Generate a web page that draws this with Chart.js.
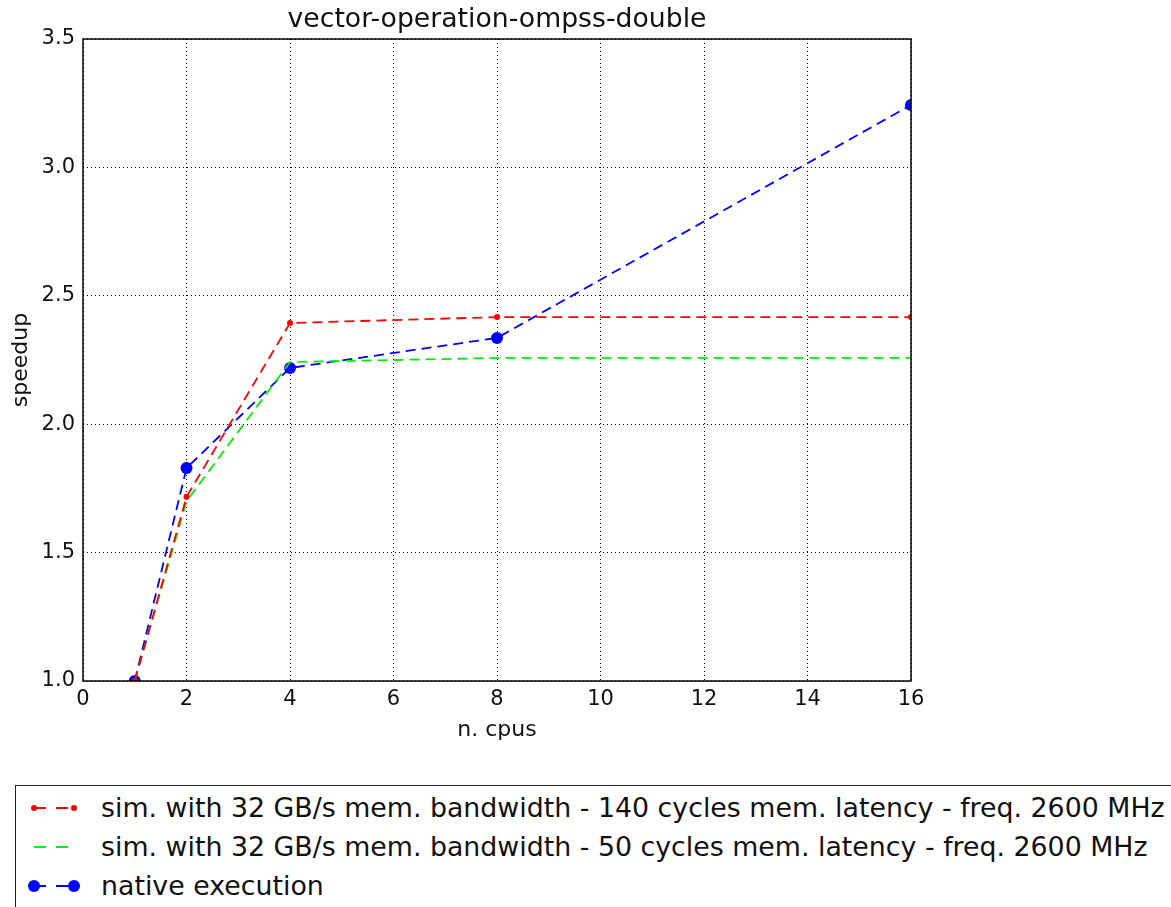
<!DOCTYPE html>
<html lang="en">
<head>
  <meta charset="UTF-8">
  <title>vector-operation-ompss-double</title>
  <script src="https://cdn.jsdelivr.net/npm/chart.js"></script>
  <style>
    body { margin: 0; background: #fff; font-family: "DejaVu Sans", sans-serif; overflow: hidden; }
    #wrap { position: relative; width: 1171px; height: 760px; }
    #legend {
      position: absolute; left: 15px; top: 785px; width: 1170px; height: 140px;
      border: 1.5px solid #222; box-sizing: border-box; padding-top: 2px;
    }
    .item { height: 39px; display: flex; align-items: center; font-size: 26.8px; color: #111; white-space: nowrap; }
    .item svg { margin-left: 6px; margin-right: 17px; }
  </style>
</head>
<body>
  <div id="wrap"><canvas id="myChart"></canvas></div>
  <div id="legend"></div>

<script>
  const cpus = [1, 2, 4, 8, 16];
  const sim140 = [1.0, 1.717, 2.394, 2.417, 2.417];
  const sim50 = [1.0, 1.70, 2.242, 2.258, 2.258];
  const native = [1.0, 1.829, 2.219, 2.336, 3.243];
  const xTicks = [0, 2, 4, 6, 8, 10, 12, 14, 16];
  const yTicks = [1.0, 1.5, 2.0, 2.5, 3.0, 3.5];
  const titleText = 'vector-operation-ompss-double';

  const labels = [
    'sim. with 32 GB/s mem. bandwidth - 140 cycles mem. latency - freq. 2600 MHz',
    'sim. with 32 GB/s mem. bandwidth - 50 cycles mem. latency - freq. 2600 MHz',
    'native execution'
  ];

  const toPoints = ys => cpus.map((c, i) => ({ x: c, y: ys[i] }));

  // full box around the plot area + title centred over it, like matplotlib
  const frame = {
    id: 'frame',
    afterDraw(chart) {
      const a = chart.chartArea, ctx = chart.ctx;
      ctx.save();
      ctx.strokeStyle = '#000';
      ctx.lineWidth = 1.5;
      ctx.strokeRect(a.left, a.top, a.right - a.left, a.bottom - a.top);
      ctx.fillStyle = '#111';
      ctx.font = '26.7px "DejaVu Sans"';
      ctx.textAlign = 'center';
      ctx.textBaseline = 'middle';
      ctx.fillText(titleText, (a.left + a.right) / 2, 20);
      ctx.restore();
    }
  };

  const font = { family: 'DejaVu Sans', size: 21 };
  const labelFont = { family: 'DejaVu Sans', size: 22 };

  const datasets = [
    { label: labels[0], data: toPoints(sim140), borderColor: '#ff0000', backgroundColor: '#ff0000',
      borderDash: [10, 6], borderWidth: 1.8, pointRadius: 3, pointBorderWidth: 0 },
    { label: labels[1], data: toPoints(sim50), borderColor: '#00ee00', backgroundColor: '#00ee00',
      borderDash: [10, 6], borderWidth: 1.8, pointRadius: 0 },
    { label: labels[2], data: toPoints(native), borderColor: '#0000ff', backgroundColor: '#0000ff',
      borderDash: [10, 6], borderWidth: 1.8, pointRadius: 6, pointBorderWidth: 0 }
  ];

  const canvas = document.getElementById('myChart');
  canvas.width = 1171; canvas.height = 760;

  new Chart(canvas.getContext('2d'), {
    type: 'line',
    data: { datasets: datasets },
    plugins: [frame],
    options: {
      responsive: false,
      animation: false,
      layout: { padding: { left: 0, right: 260, top: 39, bottom: 0 } },
      plugins: {
        legend: { display: false },
        tooltip: { enabled: false },
        title: { display: false }
      },
      scales: {
        x: {
          type: 'linear', min: 0, max: 16,
          afterBuildTicks: s => { s.ticks = xTicks.map(v => ({ value: v })); },
          afterFit: s => { s.height = 79; },
          ticks: { color: '#111', font: font, padding: 6, maxRotation: 0 },
          grid: { color: '#000', lineWidth: 1, drawTicks: false, tickLength: 0 },
          border: { display: false, dash: [1, 3] },
          title: { display: true, text: 'n. cpus', color: '#111', font: labelFont, padding: { top: 2, bottom: 17 } }
        },
        y: {
          min: 1.0, max: 3.5,
          afterBuildTicks: s => { s.ticks = yTicks.map(v => ({ value: v })); },
          afterFit: s => { s.width = 83; },
          ticks: { color: '#111', font: font, padding: 8, callback: v => v.toFixed(1) },
          grid: { color: '#000', lineWidth: 1, drawTicks: false, tickLength: 0 },
          border: { display: false, dash: [1, 3] },
          title: { display: true, text: 'speedup', color: '#111', font: labelFont, padding: { top: 8, bottom: 2 } }
        }
      }
    }
  });

  // legend in matplotlib style: dashed segment with a marker at each end
  const legend = document.getElementById('legend');
  datasets.forEach(d => {
    const r = d.pointRadius;
    const row = document.createElement('div');
    row.className = 'item';
    row.innerHTML =
      `<svg width="62" height="20"><line x1="12" y1="10" x2="52" y2="10" stroke="${d.borderColor}" stroke-width="1.8" stroke-dasharray="12 10"/>` +
      (r ? `<circle cx="12" cy="10" r="${r}" fill="${d.borderColor}"/><circle cx="52" cy="10" r="${r}" fill="${d.borderColor}"/>` : '') +
      `</svg><span>${d.label}</span>`;
    legend.appendChild(row);
  });
</script>
</body>
</html>
